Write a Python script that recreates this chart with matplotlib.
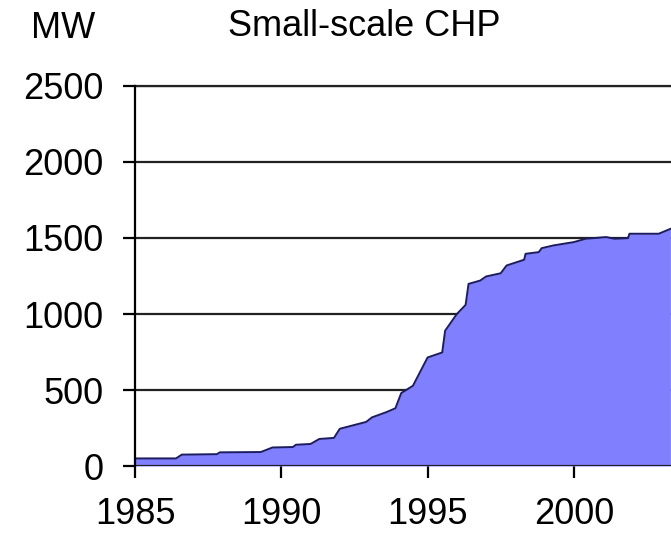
import matplotlib.pyplot as plt

# values
years = [1985.0, 1986.4, 1986.6, 1987.8, 1987.9, 1989.3, 1989.7, 1990.4, 1990.5,
         1991.0, 1991.3, 1991.8, 1992.0, 1992.2, 1992.9, 1993.1, 1993.6, 1993.9,
         1994.1, 1994.5, 1995.0, 1995.5, 1995.6, 1996.0, 1996.3, 1996.4, 1996.8,
         1997.0, 1997.5, 1997.7, 1998.3, 1998.35, 1998.8, 1998.9, 1999.3, 2000.0,
         2000.4, 2001.1, 2001.4, 2001.85, 2001.9, 2002.9, 2003.3]
mw = [50, 50, 75, 78, 90, 92, 122, 125, 140,
      145, 178, 185, 245, 255, 290, 320, 355, 380,
      480, 528, 714, 747, 890, 1000, 1060, 1198, 1220,
      1247, 1268, 1319, 1357, 1396, 1407, 1433, 1451, 1473,
      1495, 1506, 1495, 1499, 1528, 1528, 1560]
xticks = [1985, 1990, 1995, 2000]
yticks = [0, 500, 1000, 1500, 2000, 2500]

plt.rcParams['font.family'] = ['Liberation Sans', 'DejaVu Sans']

fig = plt.figure(figsize=(6.71, 5.34), dpi=100)
ax = fig.add_axes([0.2012, 0.1273, 0.7988, 0.7117])

ax.fill_between(years, mw, 0, color='#8080ff', linewidth=0, zorder=2)
ax.plot(years, mw, color='#1c1c5e', linewidth=1.4, zorder=3)

ax.set_xlim(1985, 2003.32)
ax.set_ylim(0, 2500)
ax.set_xticks(xticks)
ax.set_yticks(yticks)
ax.grid(axis='y', color='#222222', linewidth=1.6, zorder=1)
ax.set_axisbelow(True)

for s in ['top', 'right', 'bottom']:
    ax.spines[s].set_visible(False)
ax.spines['left'].set_linewidth(1.6)
ax.spines['left'].set_zorder(4)
ax.axhline(0, color='#222222', linewidth=1.6, zorder=4)
ax.axhline(2500, color='#222222', linewidth=1.6, zorder=4, clip_on=False)

ax.tick_params(axis='both', direction='out', length=8.5, width=1.6,
               labelsize=26, colors='black')
ax.tick_params(axis='y', pad=14)
ax.tick_params(axis='x', pad=14)

fig.text(0.094, 0.946, 'MW', fontsize=26, ha='center', va='center')
fig.text(0.5425, 0.951, 'Small-scale CHP', fontsize=26, ha='center', va='center')

fig.savefig('out.png', dpi=100)
